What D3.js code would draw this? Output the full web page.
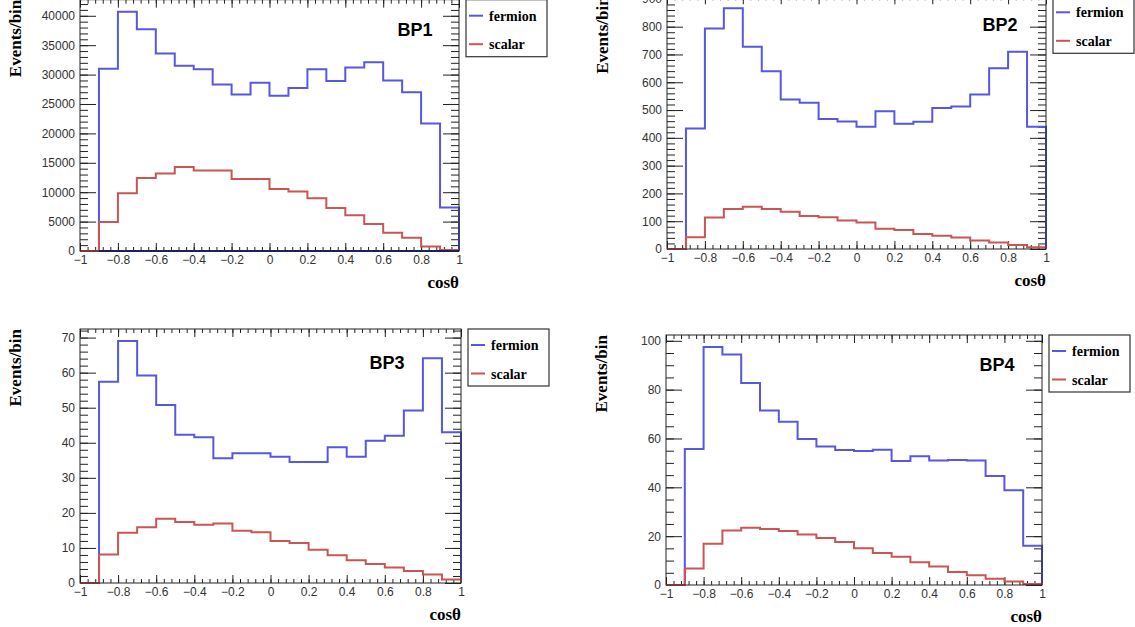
<!DOCTYPE html>
<html lang="en">
<head>
<meta charset="UTF-8">
<title>cos theta distributions BP1-BP4</title>
<style>
  html, body { margin: 0; padding: 0; background: #fff; }
  svg { display: block; }
</style>
</head>
<body>
<svg id="chart" width="1135" height="627"></svg>
<script src="https://cdn.jsdelivr.net/npm/d3@7"></script>
<script>
// bin edges: 20 bins of 0.1 between -1 and 1
const binEdges = d3.range(21).map(i => +(-1 + i * 0.1).toFixed(1));
const xTicks = [-1, -0.8, -0.6, -0.4, -0.2, 0, 0.2, 0.4, 0.6, 0.8, 1];

// values per bin
const bp1Fermion = [0, 31000, 40700, 37700, 33600, 31500, 30900, 28300, 26600, 28600, 26400, 27700, 30900, 28900, 31200, 32100, 29000, 27000, 21700, 7400];
const bp1Scalar  = [0, 4950, 9800, 12400, 13200, 14300, 13700, 13700, 12250, 12250, 10550, 10100, 8950, 7300, 6100, 4600, 3100, 2250, 750, 170];
const bp2Fermion = [0, 434, 793, 866, 728, 640, 538, 526, 468, 459, 440, 496, 451, 458, 507, 513, 556, 650, 710, 440];
const bp2Scalar  = [0, 42, 113, 144, 152, 144, 134, 119, 114, 103, 95, 73, 68, 54, 48, 41, 31, 23, 14, 6];
const bp3Fermion = [0, 57.4, 69.0, 59.2, 50.8, 42.3, 41.6, 35.6, 37.0, 37.0, 36.0, 34.5, 34.5, 38.7, 36.0, 40.6, 42.0, 49.2, 64.1, 43.0];
const bp3Scalar  = [0, 8.1, 14.3, 15.9, 18.3, 17.4, 16.6, 17.0, 14.9, 14.5, 12.0, 11.4, 9.5, 7.9, 6.5, 5.4, 4.4, 3.4, 2.4, 1.0];
const bp4Fermion = [0, 55.7, 97.5, 94.4, 82.7, 71.5, 66.8, 59.8, 56.7, 55.3, 54.9, 55.4, 50.8, 52.7, 51.0, 51.2, 51.0, 44.6, 38.8, 16.1];
const bp4Scalar  = [0, 6.8, 16.9, 22.3, 23.4, 22.9, 22.1, 20.7, 19.2, 17.6, 15.1, 13.1, 11.6, 9.3, 7.6, 5.3, 4.0, 2.6, 1.4, 0.4];

// y tick labels per panel
const bp1YTicks = [0, 5000, 10000, 15000, 20000, 25000, 30000, 35000, 40000];
const bp2YTicks = [0, 100, 200, 300, 400, 500, 600, 700, 800, 900];
const bp3YTicks = [0, 10, 20, 30, 40, 50, 60, 70];
const bp4YTicks = [0, 20, 40, 60, 80, 100];

const seriesNames = ["fermion", "scalar"];
const colors = { fermion: "#5757e3", scalar: "#c95555" };

// layout of the four pads (pixel frames)
const panels = [
  { name: "BP1", fermion: bp1Fermion, scalar: bp1Scalar, yTicks: bp1YTicks, yMinor: 1000,
    left: 80, right: 459, bottom: 251, labelX: 415, labelY: 36, baseline: true },
  { name: "BP2", fermion: bp2Fermion, scalar: bp2Scalar, yTicks: bp2YTicks, yMinor: 20,
    left: 667, right: 1046, bottom: 249, labelX: 1000, labelY: 31 },
  { name: "BP3", fermion: bp3Fermion, scalar: bp3Scalar, yTicks: bp3YTicks, yMinor: 2,
    left: 80, right: 461, bottom: 583, labelX: 387, labelY: 369 },
  { name: "BP4", fermion: bp4Fermion, scalar: bp4Scalar, yTicks: bp4YTicks, yMinor: 5,
    left: 666, right: 1042, bottom: 585, labelX: 997, labelY: 371 }
];
// pixel height that 1.05*max fills (ROOT default headroom)
const frameHeights = [251.3, 252.7, 254, 250];

const svg = d3.select("#chart");

panels.forEach((p, k) => {
  const yMax = d3.max(p.fermion) * 1.05;
  const top = p.bottom - frameHeights[k];

  const x = d3.scaleLinear().domain([-1, 1]).range([p.left, p.right]);
  const y = d3.scaleLinear().domain([0, yMax]).range([p.bottom, top]);

  const g = svg.append("g");

  // minor ticks
  const xMinor = d3.range(51).map(i => -1 + i * 0.04);
  const yMinor = d3.range(0, yMax, p.yMinor);

  const axStyle = sel => {
    sel.select(".domain").remove();
    sel.selectAll("line").attr("stroke", "#222").attr("stroke-width", 1);
    sel.selectAll("text").attr("fill", "#333")
      .attr("font-family", "'Liberation Sans', Arial, sans-serif").attr("font-size", 12);
  };

  g.append("g").attr("transform", `translate(0,${p.bottom})`)
    .call(d3.axisBottom(x).tickValues(xMinor).tickSize(-4).tickFormat(""))
    .call(axStyle);
  g.append("g").attr("transform", `translate(0,${p.bottom})`)
    .call(d3.axisBottom(x).tickValues(xTicks).tickSize(-8).tickPadding(4)
      .tickFormat(d3.format("~g")))
    .call(axStyle);
  g.append("g").attr("transform", `translate(0,${top})`)
    .call(d3.axisTop(x).tickValues(xMinor).tickSize(-4).tickFormat(""))
    .call(axStyle);
  g.append("g").attr("transform", `translate(0,${top})`)
    .call(d3.axisTop(x).tickValues(xTicks).tickSize(-8).tickFormat(""))
    .call(axStyle);

  g.append("g").attr("transform", `translate(${p.left},0)`)
    .call(d3.axisLeft(y).tickValues(yMinor).tickSize(-8).tickFormat(""))
    .call(axStyle);
  g.append("g").attr("transform", `translate(${p.left},0)`)
    .call(d3.axisLeft(y).tickValues(p.yTicks).tickSize(-16).tickPadding(5)
      .tickFormat(d3.format("d")))
    .call(axStyle);
  g.append("g").attr("transform", `translate(${p.right},0)`)
    .call(d3.axisRight(y).tickValues(yMinor).tickSize(-8).tickFormat(""))
    .call(axStyle);
  g.append("g").attr("transform", `translate(${p.right},0)`)
    .call(d3.axisRight(y).tickValues(p.yTicks).tickSize(-16).tickFormat(""))
    .call(axStyle);

  // histograms as step outlines
  const line = d3.line().x(d => x(d[0])).y(d => y(d[1])).curve(d3.curveStepAfter);
  seriesNames.forEach(s => {
    const vals = p[s];
    const pts = vals.map((v, i) => [binEdges[i], v]);
    pts.push([1, vals[vals.length - 1]]);
    pts.push([1, 0]);
    g.append("path").attr("d", line(pts))
      .attr("fill", "none").attr("stroke", colors[s]).attr("stroke-width", 2);
  });

  if (p.baseline) {
    g.append("line")
      .attr("x1", x(-0.9)).attr("x2", x(1)).attr("y1", y(0)).attr("y2", y(0))
      .attr("stroke", "#1a237e").attr("stroke-width", 2);
  }

  // frame
  g.append("rect").attr("x", p.left).attr("y", top)
    .attr("width", p.right - p.left).attr("height", p.bottom - top)
    .attr("fill", "none").attr("stroke", "#222").attr("stroke-width", 1);

  // BP label
  g.append("text").attr("x", p.labelX).attr("y", p.labelY)
    .attr("text-anchor", "middle")
    .attr("font-family", "'Liberation Sans', Arial, sans-serif")
    .attr("font-weight", "bold").attr("font-size", 18).text(p.name);

  // axis titles
  g.append("text")
    .attr("transform", `translate(${p.left - 65},${top}) rotate(-90)`)
    .attr("text-anchor", "end").attr("dy", "0.35em")
    .attr("font-family", "'Liberation Serif', 'Times New Roman', serif")
    .attr("font-weight", "bold").attr("font-size", 17).text("Events/bin");
  g.append("text").attr("x", p.right).attr("y", p.bottom + 37)
    .attr("text-anchor", "end")
    .attr("font-family", "'Liberation Serif', 'Times New Roman', serif")
    .attr("font-weight", "bold").attr("font-size", 17).text("cosθ");

  // legend
  const lx = p.right + 7;
  const lg = g.append("g").attr("transform", `translate(${lx},${top})`);
  lg.append("rect").attr("width", 81).attr("height", 57)
    .attr("fill", "#fff").attr("stroke", "#333").attr("stroke-width", 1.2);
  seriesNames.forEach((s, i) => {
    const ly = 16 + i * 28.5;
    lg.append("line").attr("x1", 3).attr("x2", 17).attr("y1", ly).attr("y2", ly)
      .attr("stroke", colors[s]).attr("stroke-width", 2);
    lg.append("text").attr("x", 23).attr("y", ly + 5)
      .attr("font-family", "'Liberation Serif', 'Times New Roman', serif")
      .attr("font-weight", "bold").attr("font-size", 14).text(s);
  });
});
</script>
</body>
</html>
